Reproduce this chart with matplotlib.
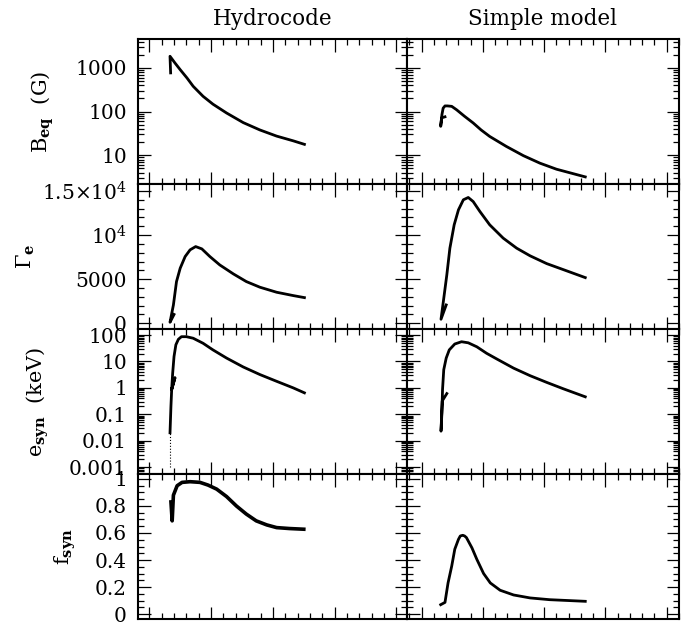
import numpy as np
import matplotlib
matplotlib.use('Agg')
import matplotlib.pyplot as plt
from matplotlib.ticker import MultipleLocator, LogLocator

plt.rcParams['font.family'] = ['DejaVu Serif']
plt.rcParams['mathtext.fontset'] = 'dejavuserif'

# --- data (x in arbitrary time units) ---
# hydrocode column
t_hydro_B = [0.345, 0.335, 0.415, 0.50, 0.61, 0.71, 0.87, 1.03, 1.25, 1.52, 1.79, 2.06, 2.33, 2.51]
B_hydro = [770, 1850, 1300, 912, 589, 380, 224, 148, 93, 56, 38, 27.5, 21.4, 17.8]

t_hydro_G = [0.40, 0.335, 0.39, 0.44, 0.50, 0.58, 0.66, 0.75, 0.85, 0.98, 1.14, 1.36, 1.57, 1.79, 2.06, 2.33, 2.51]
G_hydro = [1000, 114, 2080, 4730, 6250, 7570, 8330, 8700, 8440, 7570, 6620, 5600, 4730, 4090, 3520, 3140, 2910]

# first two points: sparse (dotted) start of the trajectory
t_hydro_e = [0.335, 0.335, 0.35, 0.362, 0.415, 0.362, 0.378, 0.40, 0.43, 0.47, 0.52, 0.60, 0.71, 0.87,
             1.03, 1.25, 1.52, 1.79, 2.06, 2.33, 2.51]
e_hydro = [0.001, 0.020, 0.20, 0.87, 2.4, 0.87, 3.6, 15.5, 43, 69, 87, 87, 76, 49,
           27.5, 13.5, 6.2, 3.2, 1.78, 1.0, 0.65]

t_hydro_f = [0.35, 0.37, 0.39, 0.45, 0.53, 0.66, 0.82, 0.95, 1.09, 1.25, 1.41, 1.57, 1.73, 1.90, 2.06, 2.27, 2.50]
f_hydro = [0.83, 0.69, 0.88, 0.95, 0.975, 0.98, 0.975, 0.955, 0.925, 0.87, 0.80, 0.74, 0.69, 0.66, 0.64, 0.633, 0.628]

# simple model column
t_simple_B = [0.38, 0.325, 0.31, 0.33, 0.35, 0.38, 0.42, 0.49, 0.57, 0.70, 0.84, 0.97, 1.11, 1.38, 1.66, 1.93, 2.20, 2.67]
B_simple = [76, 72, 46, 85, 120, 135, 135, 132, 110, 78, 55, 38, 27, 16, 9.8, 6.6, 4.8, 3.2]

t_simple_G = [0.40, 0.315, 0.353, 0.41, 0.46, 0.53, 0.60, 0.68, 0.76, 0.84, 0.95, 1.11, 1.33, 1.55, 1.77, 2.04, 2.31, 2.67]
G_simple = [2080, 454, 2450, 5490, 8520, 11170, 12870, 14010, 14270, 13810, 12680, 11170, 9660, 8520, 7650, 6770, 6090, 5180]

t_simple_e = [0.41, 0.335, 0.315, 0.33, 0.34, 0.36, 0.40, 0.45, 0.54, 0.65, 0.76, 0.90, 1.06, 1.23, 1.50, 1.77, 2.04, 2.31, 2.67]
e_simple = [0.61, 0.32, 0.023, 0.115, 0.87, 4.9, 13.5, 27.5, 46, 56, 51, 36, 20.4, 12.3, 5.6, 2.9, 1.62, 0.93, 0.46]

t_simple_f = [0.31, 0.38, 0.43, 0.49, 0.54, 0.60, 0.63, 0.67, 0.70, 0.73, 0.82, 0.90, 1.01, 1.12, 1.28, 1.50, 1.77, 2.09, 2.67]
f_simple = [0.069, 0.086, 0.23, 0.355, 0.48, 0.553, 0.578, 0.583, 0.578, 0.566, 0.49, 0.405, 0.30, 0.23, 0.176, 0.141, 0.119, 0.106, 0.094]

col_titles = ['Hydrocode', 'Simple model']
row_labels = [r'B$_{\mathbf{eq}}$  (G)', r'$\Gamma_{\mathbf{e}}$', r'e$_{\mathbf{syn}}$  (keV)', r'f$_{\mathbf{syn}}$']
label_x = [-0.353, -0.416, -0.372, -0.271]

B_ticks = [10, 100, 1000]
B_ticklabels = ['10', '100', '1000']
G_ticks = [0, 5000, 10000, 15000]
G_ticklabels = ['0', '5000', r'10$^4$', r'1.5$\times$10$^4$']
e_ticks = [0.001, 0.01, 0.1, 1, 10, 100]
e_ticklabels = ['0.001', '0.01', '0.1', '1', '10', '100']
f_ticks = [0, 0.2, 0.4, 0.6, 0.8, 1.0]
f_ticklabels = ['0', '0.2', '0.4', '0.6', '0.8', '1']

W, H = 689, 624
fig = plt.figure(figsize=(W / 100, H / 100), dpi=100)

col_left = [138, 407]
col_width = [269, 272]
col_xlim = [(-0.183, 4.17), (-0.24, 4.20)]
top_px = 39
row_h = 145

data = [
    [(t_hydro_B, B_hydro), (t_simple_B, B_simple)],
    [(t_hydro_G, G_hydro), (t_simple_G, G_simple)],
    [(t_hydro_e, e_hydro), (t_simple_e, e_simple)],
    [(t_hydro_f, f_hydro), (t_simple_f, f_simple)],
]

for r in range(4):
    for c in range(2):
        bottom = 1 - (top_px + row_h * (r + 1)) / H
        ax = fig.add_axes([col_left[c] / W, bottom, col_width[c] / W, row_h / H])
        t, y = data[r][c]

        if r == 2 and c == 0:
            # sparse early part of the hydro run shows up dotted
            ax.plot(t[:2], y[:2], color='k', lw=0.8, ls=':')
            ax.plot(t[1:], y[1:], color='k', lw=2, solid_joinstyle='round')
        elif r == 3 and c == 0:
            ax.plot(t, y, color='k', lw=2.6, solid_joinstyle='round')
        else:
            ax.plot(t, y, color='k', lw=2, solid_joinstyle='round')

        ax.set_xlim(col_xlim[c])
        ax.xaxis.set_major_locator(MultipleLocator(1))
        ax.xaxis.set_minor_locator(MultipleLocator(0.2))

        if r == 0:
            ax.set_yscale('log')
            ax.set_ylim(2.2, 4600)
            ax.set_yticks(B_ticks, B_ticklabels)
        elif r == 1:
            ax.set_ylim(-650, 15800)
            ax.set_yticks(G_ticks, G_ticklabels)
            ax.yaxis.set_minor_locator(MultipleLocator(1000))
        elif r == 2:
            ax.set_yscale('log')
            ax.set_ylim(5.5e-4, 170)
            ax.set_yticks(e_ticks, e_ticklabels)
        else:
            ax.set_ylim(-0.037, 1.037)
            ax.set_yticks(f_ticks, f_ticklabels)
            ax.yaxis.set_minor_locator(MultipleLocator(0.05))
        if r in (0, 2):
            ax.yaxis.set_minor_locator(LogLocator(base=10, subs=np.arange(2, 10), numticks=100))

        ax.tick_params(which='both', direction='in', top=True, right=True,
                       labelbottom=False, labelleft=(c == 0), width=0.9,
                       labelsize=14.5, pad=8)
        ax.tick_params(which='major', length=9)
        ax.tick_params(which='minor', length=4.5)
        for s in ax.spines.values():
            s.set_linewidth(1.5)

        if r == 0:
            ax.set_title(col_titles[c], fontsize=15.5, pad=10)
        if c == 0:
            ax.set_ylabel(row_labels[r], fontsize=15, va='center')
            ax.yaxis.set_label_coords(label_x[r], 0.5)

fig.savefig('out.png', dpi=100)
